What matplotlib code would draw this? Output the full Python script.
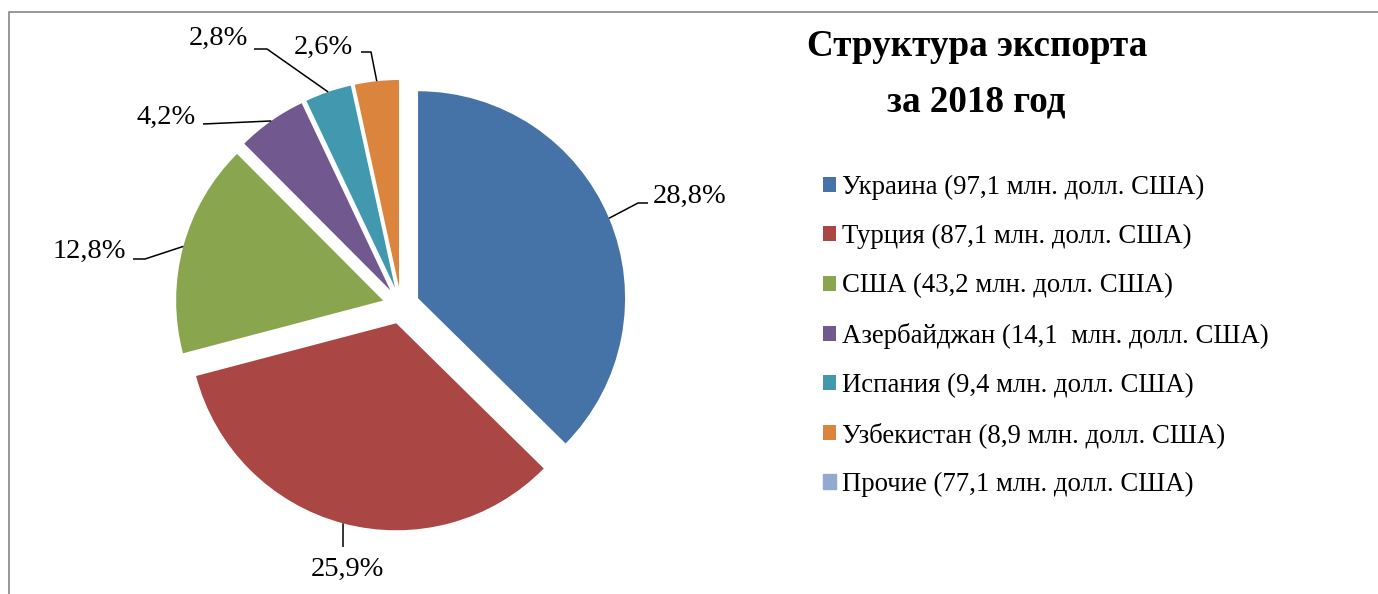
import numpy as np
import matplotlib
matplotlib.use('Agg')
import matplotlib.pyplot as plt
from matplotlib.patches import Patch, Rectangle

# Export structure, 2018 (mln USD)
countries = ['Украина', 'Турция', 'США', 'Азербайджан', 'Испания', 'Узбекистан', 'Прочие']
values = [97.1, 87.1, 43.2, 14.1, 9.4, 8.9, 77.1]
legend_values = ['97,1', '87,1', '43,2', '14,1 ', '9,4', '8,9', '77,1']
colors = ['#4572A7', '#AA4643', '#89A54E', '#71588F', '#4198AF', '#DB843D', '#93A9CF']

W, H = 1378, 594
plt.rcParams['font.family'] = ['Liberation Serif', 'DejaVu Serif']

fig = plt.figure(figsize=(W / 100, H / 100), dpi=100)
ax = fig.add_axes([0, 0, 1, 1])

# the "others" slice is not drawn in the original, only listed in the legend
drawn = values[:-1]
total = sum(values)
cx, cy, R = 401, H - 305.4, 207

wedges, _ = ax.pie(drawn, colors=colors[:-1], startangle=90, counterclock=False,
                   radius=R, center=(cx, cy), explode=[18.5] * len(drawn),
                   wedgeprops=dict(linewidth=0))

ax.set_xlim(0, W)
ax.set_ylim(0, H)
ax.set_aspect('equal')
ax.axis('off')

# label layout: elbow point, end of leader, text anchor (image pixels, y down)
label_layout = [
    ((638, 203), (648, 203), (653, 196, 'left')),
    ((343, 547), (343, 547), (347, 569, 'center')),
    ((145, 259), (133, 259), (126, 251, 'right')),
    ((203, 124), (203, 124), (196, 117, 'right')),
    ((267, 49), (254, 49), (248, 38, 'right')),
    ((371, 52), (361, 52), (353, 47, 'right')),
]

for w, v, (elbow, end, txt) in zip(wedges, drawn, label_layout):
    ang = np.deg2rad((w.theta1 + w.theta2) / 2)
    x0 = w.center[0] + w.r * np.cos(ang)
    y0 = w.center[1] + w.r * np.sin(ang)
    ax.plot([x0, elbow[0], end[0]], [y0, H - elbow[1], H - end[1]],
            color='black', lw=1.1, solid_capstyle='butt')
    pct = f'{v / total * 100:.1f}%'.replace('.', ',')
    ax.text(txt[0], H - txt[1], pct, ha=txt[2], va='center', fontsize=20.5)

# title
ax.text(977, H - 46, 'Структура экспорта', ha='center', va='center',
        fontsize=26.7, fontweight='bold')
ax.text(976, H - 102, 'за 2018 год', ha='center', va='center',
        fontsize=26.7, fontweight='bold')

# legend
handles = list(wedges) + [Patch(color=colors[-1])]
labels = [f'{c} ({v} млн. долл. США)' for c, v in zip(countries, legend_values)]
ax.legend(handles, labels, loc='upper left', bbox_to_anchor=(823 / W, 1 - 175 / H),
          frameon=False, fontsize=19.3, handlelength=0.485, handleheight=0.485,
          handletextpad=0.22, labelspacing=0.90, borderpad=0, borderaxespad=0)

# chart frame
fig.patches.append(Rectangle((9 / W, -0.1), 1.2, 1 - 12 / H + 0.1, transform=fig.transFigure,
                             fill=False, edgecolor='#868686', lw=1.2))

fig.savefig('out.png', dpi=100)
